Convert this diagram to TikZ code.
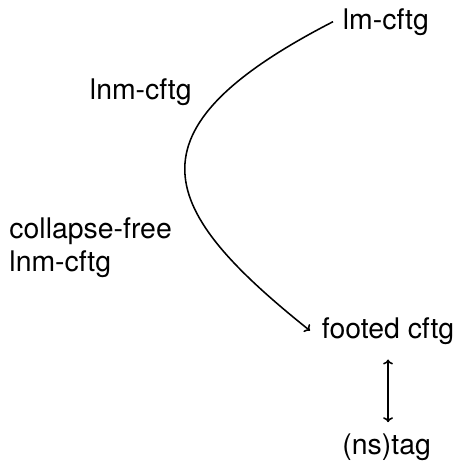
\documentclass[tikz,border=0pt]{standalone}
\usepackage{fontspec}
\setmainfont{TeX Gyre Heros}
\usetikzlibrary{arrows.meta}
\begin{document}
\begin{tikzpicture}[x=0.025cm, y=-0.025cm, line width=1.1pt, >={To[length=3.5pt,width=7pt]},
  every node/.style={font=\fontsize{20.2}{23.4}\selectfont}]
  \useasboundingbox (0,0) rectangle (457,462);
  \node[anchor=base west, inner xsep=6.5pt] (lm) at (333,29) {lm-cftg};
  \node[anchor=base west] (lnm) at (84.5,99) {lnm-cftg};
  \node[anchor=base west, align=left] (cflnm) at (4,271) {collapse-free\\lnm-cftg};
  \node[anchor=base west, inner xsep=7.9pt] (footed) at (310,338) {footed cftg};
  \node[anchor=base west] (ns) at (337,454) {(ns)tag};
  \draw[->] (lm.west) .. controls +(-214,110) and +(-150,-120) .. (footed.west);
  \draw[<->, shorten <=7, shorten >=4] (footed.south) -- (footed.south |- ns.north);
\end{tikzpicture}
\end{document}
